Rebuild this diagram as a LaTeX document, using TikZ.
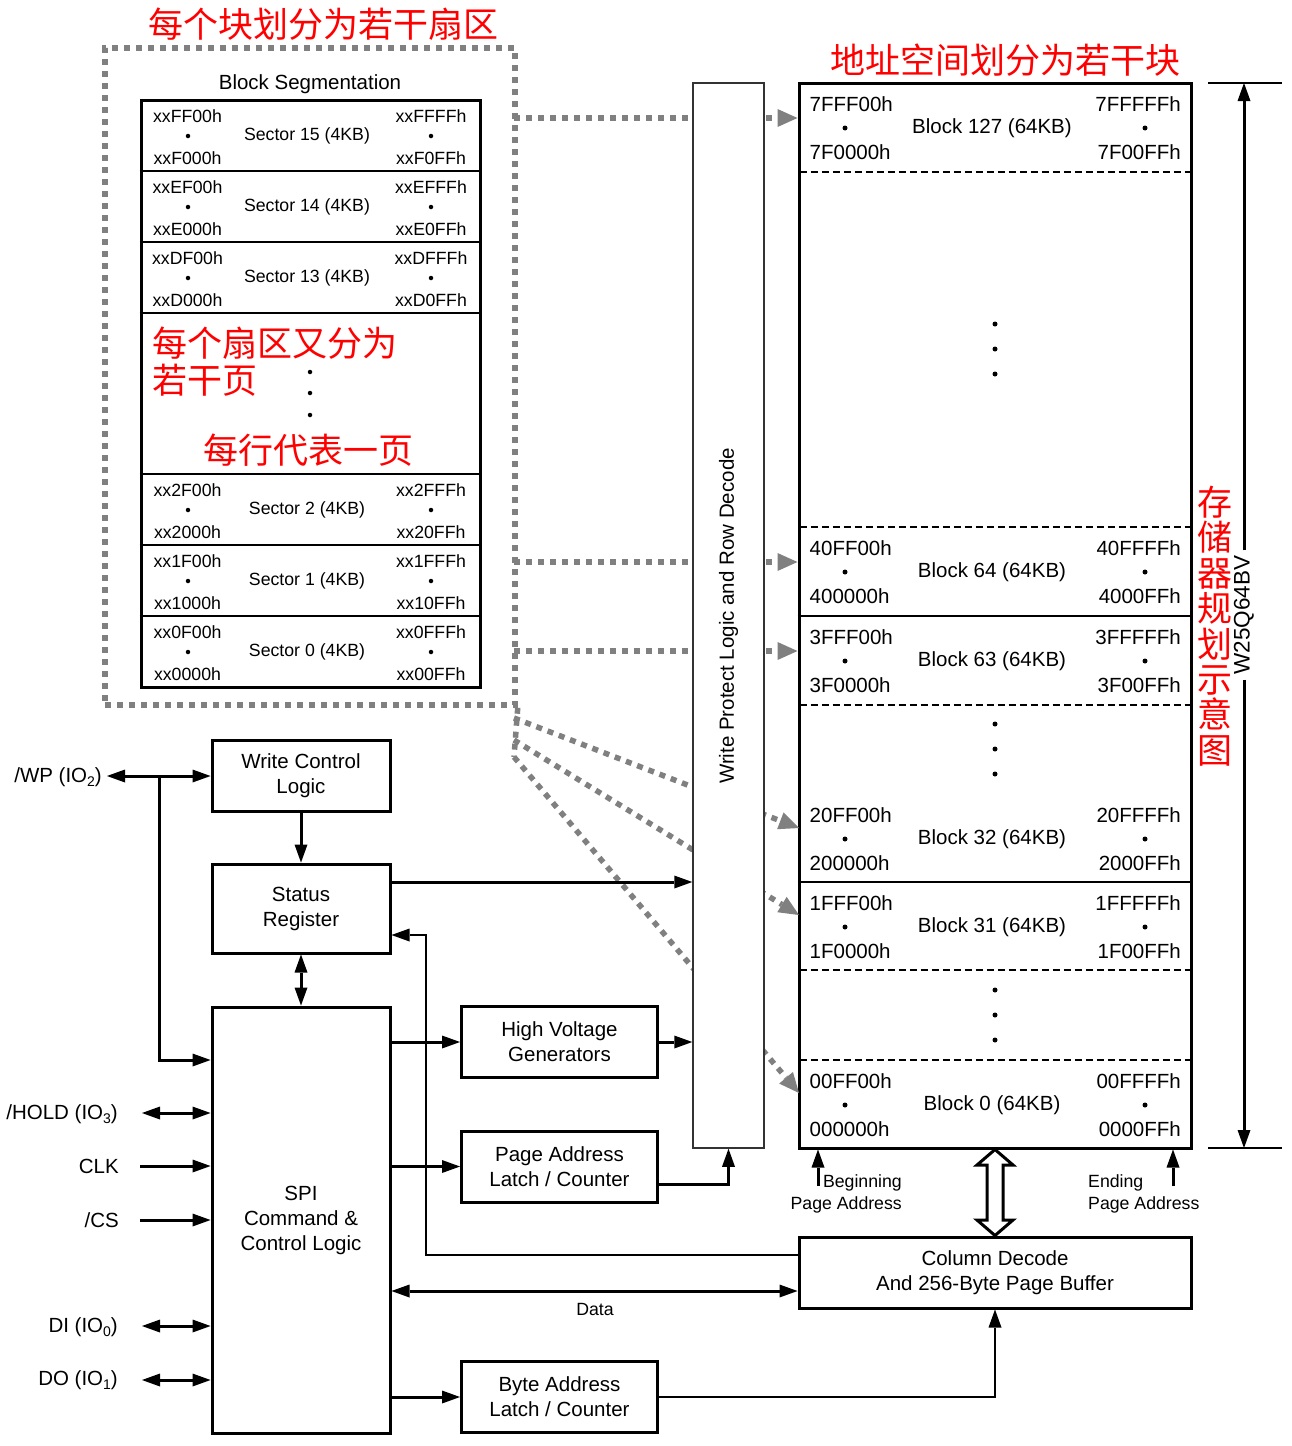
\documentclass[tikz,border=0pt]{standalone}
\usepackage{fontspec}
\setmainfont{Liberation Sans}
\newfontfamily\cjk{Noto Sans CJK SC}
\usetikzlibrary{arrows.meta}

\definecolor{dotgray}{RGB}{128,128,128}
\definecolor{hanred}{RGB}{255,0,0}

\newcommand\txtA{\fontsize{20.5}{25}\selectfont}
\newcommand\txtB{\fontsize{17.7}{22}\selectfont}
\newcommand\txtH{\fontsize{35}{35.4}\selectfont\cjk}
\newcommand\iosub[1]{\raisebox{-4pt}{\fontsize{14}{14}\selectfont #1}}

% one sector row of the block segmentation table
\newcommand\sectrow[7]{%
  \node[slbl] (#1lt) at (187.5,#2+16) {#3};
  \node[dotmark, minimum size=4.5pt] (#1ld) at (188,#2+36) {};
  \node[slbl] (#1lb) at (187.5,#2+58) {#4};
  \node[slbl] (#1c) at (307,#2+36) {#5};
  \node[slbl] (#1rt) at (431,#2+16) {#6};
  \node[dotmark, minimum size=4.5pt] (#1rd) at (431,#2+36) {};
  \node[slbl] (#1rb) at (431,#2+58) {#7};
}
% one block row of the memory array
\newcommand\memrow[7]{%
  \node[lbl, anchor=west] (#1lt) at (809.5,#2+21) {#3};
  \node[dotmark] (#1ld) at (845,#2+45) {};
  \node[lbl, anchor=west] (#1lb) at (809.5,#2+69.5) {#4};
  \node[lbl] (#1c) at (992,#2+45) {#5};
  \node[lbl, anchor=east] (#1rt) at (1181,#2+21) {#6};
  \node[dotmark] (#1rd) at (1145,#2+45) {};
  \node[lbl, anchor=east] (#1rb) at (1181,#2+69.5) {#7};
}

\begin{document}
\begin{tikzpicture}[x=1pt, y=-1pt,
  box/.style={draw, line width=3pt, align=center, font=\txtA, fill=white, inner sep=0pt},
  lbl/.style={font=\txtA, inner sep=0pt},
  slbl/.style={font=\txtB, inner sep=0pt},
  hanzi/.style={font=\txtH, text=hanred, inner sep=0pt},
  dotmark/.style={circle, fill=black, inner sep=0pt, minimum size=5pt},
  conn/.style={line width=3pt, -{Triangle[length=18pt,width=13pt,line width=0pt]}},
  dconn/.style={line width=3pt, {Triangle[length=18pt,width=13pt,line width=0pt]}-{Triangle[length=18pt,width=13pt,line width=0pt]}},
  gdot/.style={draw=dotgray, line width=5.5pt, dash pattern=on 6pt off 6pt},
  garrow/.style={gdot, -{Triangle[length=20pt,width=18pt,line width=0pt]}},
  memsep/.style={line width=1.5pt, dash pattern=on 7pt off 4pt},
  secsep/.style={line width=2.7pt},
]
\useasboundingbox[fill=white] (0,0) rectangle (1292,1446);

% ---------- red annotations ----------
\node[hanzi] (title1) at (323,24) {每个块划分为若干扇区};
\node[hanzi] (title2) at (1005,60) {地址空间划分为若干块};
\node[hanzi, align=center] (vtitle) at (1215,626) {存\\储\\器\\规\\划\\示\\意\\图};

% ---------- block segmentation (dotted frame) ----------
\node[gdot, minimum width=410pt, minimum height=657pt, inner sep=0pt] (segframe) at (310,376.5) {};
\coordinate (g1s) at (514,118);
\coordinate (g2s) at (514,562);
\coordinate (g3s) at (514,651);
\coordinate (d1s) at (514,718);
\coordinate (d2s) at (514,740);
\coordinate (d3s) at (514,757);
\coordinate (d1e) at (799,828);
\coordinate (d2e) at (799,915);
\coordinate (d3e) at (799,1093);
\draw[gdot] (segframe.south east) -- (d3s);

% memory array outline
\node[draw, line width=3pt, minimum width=392pt, minimum height=1065pt, inner sep=0pt] (mem) at (995,615.5) {};

% gray pointers from the segmentation to the blocks
\draw[garrow] (g1s) -- (mem.west |- g1s);
\draw[garrow] (g2s) -- (mem.west |- g2s);
\draw[garrow] (g3s) -- (mem.west |- g3s);
\draw[garrow] (d1s) -- (d1e);
\draw[garrow] (d2s) -- (d2e);
\draw[garrow] (d3s) -- (d3e);

\node[lbl] (segtitle) at (310,84) {Block Segmentation};
\node[draw, line width=3pt, minimum width=339pt, minimum height=587pt, inner sep=0pt] (sect) at (310.5,393.5) {};
\foreach \yy in {171,242,313,474,545,616}
  \draw[secsep] (sect.west |- 0,\yy) -- (sect.east |- 0,\yy);

\sectrow{s15}{100}{xxFF00h}{xxF000h}{Sector 15 (4KB)}{xxFFFFh}{xxF0FFh}
\sectrow{s14}{171}{xxEF00h}{xxE000h}{Sector 14 (4KB)}{xxEFFFh}{xxE0FFh}
\sectrow{s13}{242}{xxDF00h}{xxD000h}{Sector 13 (4KB)}{xxDFFFh}{xxD0FFh}
\sectrow{s2}{474}{xx2F00h}{xx2000h}{Sector 2 (4KB)}{xx2FFFh}{xx20FFh}
\sectrow{s1}{545}{xx1F00h}{xx1000h}{Sector 1 (4KB)}{xx1FFFh}{xx10FFh}
\sectrow{s0}{616}{xx0F00h}{xx0000h}{Sector 0 (4KB)}{xx0FFFh}{xx00FFh}

\node[hanzi, anchor=west] (note1) at (152,343) {每个扇区又分为};
\node[hanzi, anchor=west] (note2) at (152,380) {若干页};
\node[hanzi] (note3) at (308,450) {每行代表一页};
\node[dotmark, minimum size=4.5pt] (sv1) at (310,372) {};
\node[dotmark, minimum size=4.5pt] (sv2) at (310,393) {};
\node[dotmark, minimum size=4.5pt] (sv3) at (310,415) {};

% ---------- memory array contents ----------
\foreach \yy in {172,527,705,970,1060}
  \draw[memsep] ([xshift=2pt]mem.west |- 0,\yy) -- ([xshift=-2pt]mem.east |- 0,\yy);
\foreach \yy in {616,882}
  \draw[line width=1.5pt] (mem.west |- 0,\yy) -- (mem.east |- 0,\yy);

\memrow{b127}{83}{7FFF00h}{7F0000h}{Block 127 (64KB)}{7FFFFFh}{7F00FFh}
\memrow{b64}{527}{40FF00h}{400000h}{Block 64 (64KB)}{40FFFFh}{4000FFh}
\memrow{b63}{616}{3FFF00h}{3F0000h}{Block 63 (64KB)}{3FFFFFh}{3F00FFh}
\memrow{b32}{794}{20FF00h}{200000h}{Block 32 (64KB)}{20FFFFh}{2000FFh}
\memrow{b31}{882}{1FFF00h}{1F0000h}{Block 31 (64KB)}{1FFFFFh}{1F00FFh}
\memrow{b0}{1060}{00FF00h}{000000h}{Block 0 (64KB)}{00FFFFh}{0000FFh}

\foreach \yy [count=\i] in {324,349,374,724,749,774,990,1015,1040}
  \node[dotmark] (mv\i) at (995,\yy) {};

% ---------- write protect / row decode ----------
\node[draw=black!80, line width=1.5pt, fill=white, minimum width=71pt, minimum height=1065pt, inner sep=0pt] (wpl) at (728.5,615.5) {};
\node[lbl, rotate=90] (wptxt) at (728.5,616) {Write Protect Logic and Row Decode};

% ---------- control blocks ----------
\node[box, minimum width=178pt, minimum height=71pt] (wcl) at (301,775.5) {Write Control\\Logic};
\node[box, minimum width=178pt, minimum height=89pt] (sr) at (301,908.5) {Status\\Register};
\node[box, minimum width=178pt, minimum height=426pt] (spi) at (301,1220) {SPI\\Command \&\\Control Logic};
\node[box, minimum width=196pt, minimum height=71pt] (hvg) at (559.5,1042) {High Voltage\\Generators};
\node[box, minimum width=196pt, minimum height=71pt] (pal) at (559.5,1166.5) {Page Address\\Latch / Counter};
\node[box, minimum width=196pt, minimum height=71pt] (bal) at (559.5,1397) {Byte Address\\Latch / Counter};
\node[box, minimum width=392pt, minimum height=71pt] (cd) at (995,1272.5) {Column Decode\\And 256-Byte Page Buffer};

% ---------- pins ----------
\node[lbl, anchor=east] (pwp) at (102,777) {/WP (IO\iosub{2})};
\node[lbl, anchor=east] (phold) at (118,1114) {/HOLD (IO\iosub{3})};
\node[lbl, anchor=east] (pclk) at (119,1166) {CLK};
\node[lbl, anchor=east] (pcs) at (119,1220) {/CS};
\node[lbl, anchor=east] (pdi) at (118,1327) {DI (IO\iosub{0})};
\node[lbl, anchor=east] (pdo) at (118,1380) {DO (IO\iosub{1})};

\coordinate (wpend) at (107,776);
\coordinate (wpbr) at (159,776);
\coordinate (holdend) at (142,1113);
\coordinate (clkend) at (140,1166);
\coordinate (csend) at (140,1220);
\coordinate (diend) at (142,1326);
\coordinate (doend) at (142,1380);

\draw[dconn] (wpend) -- (wcl.west |- wpend);
\draw[conn] (wpbr) |- (spi.west |- 0,1060);
\draw[dconn] (holdend) -- (spi.west |- holdend);
\draw[conn] (clkend) -- (spi.west |- clkend);
\draw[conn] (csend) -- (spi.west |- csend);
\draw[dconn] (diend) -- (spi.west |- diend);
\draw[dconn] (doend) -- (spi.west |- doend);

% ---------- internal connections ----------
\draw[conn] (wcl.south) -- (sr.north);
\draw[dconn] (sr.south) -- (spi.north);
\draw[conn] (sr.east |- 0,882) -- (wpl.west |- 0,882);
\draw[conn, line width=2.5pt] (cd.west |- 0,1255) -| (426,935) -- (sr.east |- 0,935);
\draw[conn] (spi.east |- hvg.west) -- (hvg.west);
\draw[conn] (spi.east |- pal.west) -- (pal.west);
\draw[conn] (hvg.east) -- (wpl.west |- hvg.east);
\draw[conn] (pal.east |- 0,1184) -| (wpl.south);
\draw[dconn] (spi.east |- 0,1291) -- (cd.west |- 0,1291);
\node[slbl] (datalbl) at (595,1309) {Data};
\draw[conn] (spi.east |- bal.west) -- (bal.west);
\draw[conn, line width=2.5pt] (bal.east) -| (cd.south);

% page address pointers
\coordinate (begtail) at (818,1186);
\coordinate (endtail) at (1173,1186);
\draw[conn] (begtail) -- (mem.south -| begtail);
\draw[conn] (endtail) -- (mem.south -| endtail);
\node[slbl, align=right, anchor=east] (beglbl) at (902,1194) {Beginning\\Page Address};
\node[slbl, align=left, anchor=west] (endlbl) at (1088,1194) {Ending\\Page Address};

% hollow double arrow between array and page buffer
\draw[line width=3pt, fill=white, line join=miter]
  (mem.south) -- (1013,1165) -- (1003,1165) -- (1003,1220) -- (1013,1220) -- (cd.north)
  -- (977,1220) -- (987,1220) -- (987,1165) -- (977,1165) -- cycle;

% ---------- device size dimension ----------
\node[font=\fontsize{22.5}{27}\selectfont, inner sep=5pt, rotate=90] (w25) at (1244,615) {W25Q64BV};
\coordinate (dimtop) at (1244,83);
\coordinate (dimbot) at (1244,1148);
\draw[conn] (w25.east) -- (dimtop);
\draw[conn] (w25.west) -- (dimbot);
\draw[line width=2.5pt] (1208,83) -- (1282,83);
\draw[line width=2.5pt] (1208,1148) -- (1282,1148);
\end{tikzpicture}
\end{document}
